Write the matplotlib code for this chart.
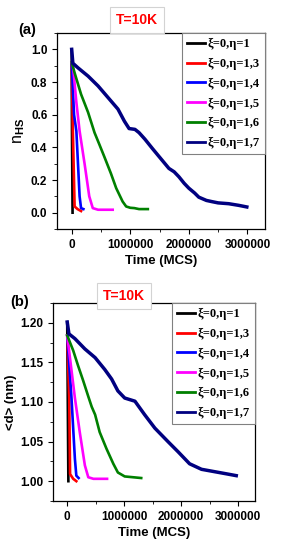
import matplotlib
matplotlib.use("Agg")
import matplotlib.pyplot as plt
from matplotlib.ticker import MultipleLocator, FormatStrFormatter

plt.rcParams['font.family'] = ['Liberation Sans', 'DejaVu Sans']
plt.rcParams['font.weight'] = 'bold'
plt.rcParams['mathtext.fontset'] = 'custom'
plt.rcParams['mathtext.rm'] = 'Liberation Sans:bold'
plt.rcParams['mathtext.it'] = 'Liberation Sans:bold'
plt.rcParams['mathtext.bf'] = 'Liberation Sans:bold'

labels = ['ξ=0,η=1', 'ξ=0,η=1,3', 'ξ=0,η=1,4', 'ξ=0,η=1,5', 'ξ=0,η=1,6', 'ξ=0,η=1,7']
colors = ['black', 'red', 'blue', 'magenta', 'green', 'navy']
widths = [1.9, 1.9, 1.9, 1.9, 1.9, 2.5]

# (a) n_HS vs time
t_a = [
    [0, 5000, 15000],
    [0, 20000, 50000, 100000, 160000],
    [0, 40000, 80000, 135000, 160000, 200000],
    [0, 20000, 80000, 135000, 220000, 300000, 360000, 450000, 700000],
    [0, 50000, 160000, 280000, 390000, 470000, 560000, 670000, 760000, 870000, 930000,
     1000000, 1070000, 1150000, 1300000],
    [0, 20000, 107000, 280000, 450000, 620000, 790000, 900000, 980000, 1080000, 1150000,
     1250000, 1380000, 1500000, 1660000, 1750000, 1830000, 1920000, 2000000, 2100000,
     2170000, 2300000, 2390000, 2500000, 2680000, 2850000, 2990000],
]
n_a = [
    [1.0, 0.5, 0.0],
    [0.92, 0.5, 0.038, 0.022, 0.01],
    [0.92, 0.6, 0.5, 0.1, 0.028, 0.022],
    [0.92, 0.907, 0.675, 0.5, 0.3, 0.1, 0.028, 0.018, 0.018],
    [0.92, 0.856, 0.725, 0.614, 0.49, 0.42, 0.34, 0.24, 0.15, 0.068, 0.038,
     0.03, 0.028, 0.022, 0.022],
    [1.0, 0.915, 0.887, 0.836, 0.776, 0.705, 0.634, 0.56, 0.515, 0.51, 0.49,
     0.45, 0.392, 0.34, 0.271, 0.25, 0.22, 0.18, 0.15, 0.12,
     0.095, 0.075, 0.068, 0.06, 0.055, 0.045, 0.035],
]

# (b) <d> vs time
t_b = [
    [0, 10000, 20000],
    [0, 35000, 50000, 105000, 160000],
    [0, 75000, 135000, 160000, 200000],
    [0, 135000, 220000, 310000, 370000, 460000, 700000],
    [0, 105000, 190000, 280000, 370000, 430000, 490000, 570000, 690000, 810000, 890000,
     1010000, 1300000],
    [0, 30000, 135000, 310000, 490000, 660000, 780000, 890000, 1010000, 1190000, 1360000,
     1540000, 1770000, 1950000, 2150000, 2360000, 2590000, 2820000, 2970000],
]
d_b = [
    [1.20, 1.10, 1.0],
    [1.184, 1.105, 1.009, 1.003, 1.0],
    [1.184, 1.105, 1.028, 1.007, 1.004],
    [1.184, 1.105, 1.062, 1.02, 1.005, 1.003, 1.003],
    [1.184, 1.165, 1.146, 1.127, 1.107, 1.094, 1.084, 1.062, 1.041, 1.022, 1.011,
     1.006, 1.004],
    [1.201, 1.186, 1.18, 1.167, 1.156, 1.141, 1.129, 1.114, 1.105, 1.101, 1.084,
     1.067, 1.05, 1.037, 1.022, 1.015, 1.012, 1.009, 1.007],
]

fig = plt.figure(figsize=(2.81, 5.5), dpi=100)
ax1 = fig.add_axes([0.203, 0.5836, 0.740, 0.3564])
ax2 = fig.add_axes([0.1886, 0.0891, 0.719, 0.36])

for ax, ts, ys in [(ax1, t_a, n_a), (ax2, t_b, d_b)]:
    for t, y, c, w, lab in zip(ts, ys, colors, widths, labels):
        ax.plot(t, y, color=c, lw=w, label=lab)
    ax.set_xlim(-250000, 3300000)
    ax.xaxis.set_major_locator(MultipleLocator(1000000))
    ax.xaxis.set_minor_locator(MultipleLocator(500000))
    ax.xaxis.set_major_formatter(FormatStrFormatter('%d'))
    ax.tick_params(labelsize=8.5, width=0.8, length=3.5, direction='out')
    ax.tick_params(which='minor', width=0.6, length=2)
    for s in ax.spines.values():
        s.set_linewidth(0.9)
    ax.set_xlabel('Time (MCS)', fontsize=9.5, fontweight='bold', labelpad=3)
    leg = ax.legend(loc='upper right', frameon=True, fancybox=False, framealpha=1,
                    borderaxespad=0, handlelength=1.5, handletextpad=0.2,
                    labelspacing=0.62, borderpad=0.4,
                    prop={'family': 'Liberation Serif', 'size': 9})
    leg.get_frame().set_edgecolor('gray')
    leg.get_frame().set_linewidth(0.8)
    for h in leg.get_lines():
        h.set_linewidth(2)

ax1.set_ylim(-0.1, 1.1)
ax1.yaxis.set_major_locator(MultipleLocator(0.2))
ax1.yaxis.set_minor_locator(MultipleLocator(0.1))
ax1.set_ylabel(r'n$_{\rm HS}$', fontsize=11.5, labelpad=3)

ax2.set_ylim(0.975, 1.225)
ax2.yaxis.set_major_locator(MultipleLocator(0.05))
ax2.yaxis.set_minor_locator(MultipleLocator(0.025))
ax2.yaxis.set_major_formatter(FormatStrFormatter('%.2f'))
ax2.set_ylabel('<d> (nm)', fontsize=9.5, fontweight='bold', labelpad=2)

box = dict(boxstyle='square,pad=0.4', facecolor='white', edgecolor='lightgray', lw=0.8)
fig.text(137 / 281, 1 - 20 / 550, 'T=10K', color='red', fontsize=10, fontweight='bold',
         ha='center', va='center', bbox=box)
fig.text(124 / 281, 1 - 296 / 550, 'T=10K', color='red', fontsize=10, fontweight='bold',
         ha='center', va='center', bbox=box)
fig.text(27 / 281, 1 - 30 / 550, '(a)', fontsize=10.5, fontweight='bold', ha='center', va='center')
fig.text(20 / 281, 1 - 302 / 550, '(b)', fontsize=10.5, fontweight='bold', ha='center', va='center')

fig.savefig('out.png', dpi=100)
